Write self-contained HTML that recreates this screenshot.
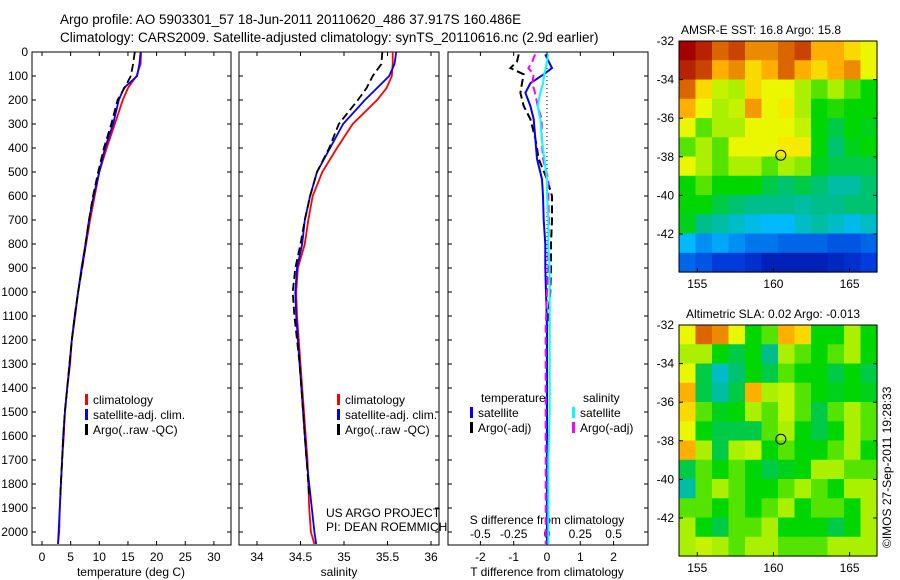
<!DOCTYPE html>
<html><head><meta charset="utf-8"><style>
body{margin:0;background:#fff}
svg{display:block;font-family:"Liberation Sans",sans-serif}
</style></head><body>
<svg id="fig" width="900" height="580">
<text x="60" y="24" font-size="13.5">Argo profile: AO 5903301_57 18-Jun-2011 20110620_486 37.917S 160.486E</text>
<text x="60" y="42" font-size="13.5">Climatology: CARS2009. Satellite-adjusted climatology: synTS_20110616.nc (2.9d earlier)</text>
<text x="681" y="34" font-size="12">AMSR-E SST: 16.8 Argo: 15.8</text>
<text x="686" y="318" font-size="12">Altimetric SLA: 0.02 Argo: -0.013</text>
<text transform="translate(891,548) rotate(-90)" font-size="12">©IMOS 27-Sep-2011 19:28:33</text>
<g id="g"></g>
</svg>
<script>
// ---- data ----
const depthTicks=[0,100,200,300,400,500,600,700,800,900,1000,1100,1200,1300,1400,1500,1600,1700,1800,1900,2000];
const tempTicks=[0,5,10,15,20,25,30];
const salTicks=[34,34.5,35,35.5,36];
const tdTicks=[-2,-1,0,1,2];
const sdTicks=[-0.5,-0.25,0,0.25,0.5];
const sdTickLabels=["-0.5","-0.25","0","0.25","0.5"];
const depths=[0,50,100,150,200,300,400,500,600,700,800,900,1000,1100,1200,1300,1400,1500,1600,1700,1800,1900,2000,2050];
const tempClim=[17.3,17.2,16.5,15.0,14.1,12.7,11.3,10.0,9.2,8.4,7.7,7.0,6.3,5.8,5.2,4.9,4.4,4.0,3.8,3.5,3.3,3.1,3.0,2.8];
const tempSat=[17.2,17.0,16.6,14.3,13.4,12.4,11.0,10.0,9.0,8.2,7.6,6.9,6.3,5.7,5.2,4.8,4.4,4.0,3.7,3.5,3.3,3.1,2.9,2.8];
const depthsArgo=[0,50,100,150,200,300,400,500,600,700,800,900,1000,1100,1200,1300,1400,1500,1600,1700,1850];
const tempArgo=[16.2,15.9,15.5,14.4,13.2,12.1,10.8,9.8,8.9,8.2,7.6,7.0,6.3,5.7,5.2,4.8,4.4,4.0,3.7,3.5,3.2];
const salClim=[35.56,35.56,35.55,35.49,35.38,35.10,34.92,34.75,34.64,34.59,34.55,34.47,34.45,34.46,34.48,34.50,34.52,34.54,34.56,34.58,34.59,34.60,34.62,34.66];
const salSat=[35.60,35.58,35.52,35.38,35.24,34.99,34.84,34.69,34.61,34.55,34.52,34.46,34.44,34.45,34.47,34.49,34.51,34.53,34.55,34.57,34.60,34.63,34.66,34.68];
const salArgo=[35.44,35.43,35.33,35.26,35.16,34.94,34.83,34.69,34.61,34.55,34.50,34.44,34.41,34.43,34.46,34.49,34.51,34.53,34.55,34.57,34.60];
const dDepths=[10,40,67,93,130,170,225,280,360,445,530,600,700,800,900,1000,1150,1300,1500,1700,1900,2050];
const dTArgo=[-0.85,-0.9,-1.1,-0.7,-0.75,-0.8,-0.7,-0.5,-0.35,-0.25,0,0.15,0.15,0.12,0.12,0.1,0.0,0.0,0.0,0.0,0.0,0.0];
const dTSat=[-0.05,0.05,0.15,-0.1,-0.5,-0.65,-0.5,-0.4,-0.35,-0.3,-0.15,-0.12,-0.1,-0.05,-0.05,-0.03,0,0,0,0,0,0];
const dSArgo=[-0.09,-0.11,-0.14,-0.10,-0.11,-0.09,-0.07,-0.04,-0.04,-0.03,0.01,0.01,0.015,0.01,0.01,0.0,-0.01,-0.01,-0.01,-0.01,-0.01,-0.01];
const dSSat=[0.01,0.0,-0.01,-0.02,-0.03,-0.05,-0.07,-0.05,-0.04,-0.02,0.0,0.0,0.01,0.01,0.02,0.02,0.02,0.02,0.02,0.01,0.01,0.01];
const latTicks=[-32,-34,-36,-38,-40,-42];
const lonTicks=[155,160,165];
const argoLon=160.486, argoLat=-37.917;
const sstGrid=[
[1,.95,.85,.9,.8,.8,.85,.9,.75,.75,.7,.65],
[.95,.9,.75,.8,.7,.75,.85,.75,.7,.75,.8,.65],
[.85,.7,.62,.6,.7,.65,.65,.6,.55,.6,.55,.5],
[.75,.65,.6,.62,.78,.65,.68,.6,.5,.52,.5,.5],
[.65,.55,.6,.6,.65,.65,.65,.62,.5,.45,.5,.48],
[.55,.6,.55,.65,.65,.65,.68,.68,.5,.42,.48,.5],
[.65,.6,.55,.6,.6,.55,.6,.58,.48,.45,.45,.45],
[.5,.55,.5,.5,.5,.45,.42,.45,.42,.38,.38,.42],
[.5,.5,.45,.42,.4,.4,.4,.38,.4,.4,.42,.42],
[.48,.4,.38,.35,.32,.3,.3,.35,.38,.35,.32,.35],
[.3,.25,.28,.25,.22,.22,.2,.2,.2,.18,.18,.2],
[.2,.18,.15,.15,.12,.08,.08,.08,.08,.1,.12,.15]];
const slaGrid=[
[.65,.85,.8,.65,.5,.55,.75,.7,.5,.5,.6,.5],
[.6,.6,.5,.45,.5,.4,.6,.55,.5,.55,.6,.5],
[.65,.45,.35,.42,.5,.45,.55,.5,.5,.45,.5,.45],
[.75,.45,.38,.45,.75,.6,.62,.55,.5,.48,.5,.48],
[.7,.55,.48,.5,.6,.55,.62,.55,.45,.55,.6,.55],
[.65,.5,.45,.45,.45,.55,.6,.5,.45,.5,.6,.55],
[.75,.6,.45,.6,.62,.5,.55,.5,.5,.55,.6,.5],
[.45,.55,.5,.55,.5,.45,.48,.5,.6,.6,.55,.55],
[.38,.55,.6,.55,.5,.5,.55,.6,.55,.5,.6,.6],
[.55,.55,.5,.55,.5,.55,.6,.5,.55,.55,.5,.6],
[.6,.5,.45,.55,.55,.6,.5,.5,.5,.45,.5,.6],
[.6,.62,.6,.55,.6,.6,.55,.55,.55,.6,.6,.6]];

// ---- helpers ----
const NS="http://www.w3.org/2000/svg";
const G=document.getElementById('g');
function mk(tag,attrs,parent){const e=document.createElementNS(NS,tag);for(const k in attrs)e.setAttribute(k,attrs[k]);(parent||G).appendChild(e);return e;}
const TOP=52,BOT=545;
const yD=d=>TOP+d*0.24;
const xT=t=>42+t*5.73;
const xS=s=>257+(s-34)*87;
const xTd=t=>547+t*33.3;
const xSd=s=>547+s*133.2;

function frame(x0,x1,name){
  const r=mk('rect',{x:x0,y:TOP,width:x1-x0,height:BOT-TOP,fill:'none',stroke:'#000','stroke-width':1});
  
  
  depthTicks.forEach(d=>{
    const y=yD(d);
    const t=mk('line',{x1:x0,x2:x0+4,y1:y,y2:y,stroke:'#000'});
    
    
    const t2=mk('line',{x1:x1-4,x2:x1,y1:y,y2:y,stroke:'#000'});
    
    
  });
}
function xticks(vals,labels,fx,name,ly){
  vals.forEach((v,i)=>{
    const x=fx(v);
    const a=mk('line',{x1:x,x2:x,y1:BOT,y2:BOT-4,stroke:'#000'});
    
    
    const b=mk('line',{x1:x,x2:x,y1:TOP,y2:TOP+4,stroke:'#000'});
    
    
    const t=mk('text',{x:x,y:ly,'font-size':12,'text-anchor':'middle'});
    t.textContent=labels[i];
    
    
  });
}
function line(xs,ds,fx,color,w,dash,name){
  const pts=xs.map((v,i)=>fx(v).toFixed(1)+','+yD(ds[i]).toFixed(1)).join(' ');
  const p=mk('polyline',{points:pts,fill:'none',stroke:color,'stroke-width':w});
  if(dash)p.setAttribute('stroke-dasharray',dash);
  
  
}
function legend(x,y,items,name){
  items.forEach((it,i)=>{
    const yy=y+i*15;
    const r=mk('rect',{x:x,y:yy-10,width:3,height:11,fill:it[1]});
    
    
    const t=mk('text',{x:x+8,y:yy,'font-size':12});
    t.textContent=it[0];
    
    
  });
}
function txt(x,y,s,name,anchor,size){
  const t=mk('text',{x:x,y:y,'font-size':size||12,'text-anchor':anchor||'start'});
  t.textContent=s;
  
  
}

// depth labels
depthTicks.forEach(d=>{
  const t=mk('text',{x:28,y:yD(d)+4,'font-size':12,'text-anchor':'end'});
  t.textContent=d;
  
  
});

// Panel 1 temperature
frame(32,231,'temperature-panel');
xticks(tempTicks,tempTicks.map(String),xT,'temperature-axis',561);
txt(131,576,'temperature (deg C)','temperature-axis-title','middle');
line(tempClim,depths,xT,'#f00',1.8,null,'temperature-climatology-line');
line(tempSat,depths,xT,'#00f',1.8,null,'temperature-satellite-line');
line(tempArgo,depthsArgo,xT,'#000',1.8,'8,4','temperature-argo-line');
legend(85,404,[['climatology','#f00'],['satellite-adj. clim.','#00f'],['Argo(..raw -QC)','#000']],'temperature-legend');

// Panel 2 salinity
frame(239,439,'salinity-panel');
xticks(salTicks,salTicks.map(String),xS,'salinity-axis',561);
txt(339,576,'salinity','salinity-axis-title','middle');
line(salClim,depths,xS,'#f00',1.8,null,'salinity-climatology-line');
line(salSat,depths,xS,'#00f',1.8,null,'salinity-satellite-line');
line(salArgo,depthsArgo,xS,'#000',1.8,'8,4','salinity-argo-line');
legend(337,404,[['climatology','#f00'],['satellite-adj. clim.','#00f'],['Argo(..raw -QC)','#000']],'salinity-legend');
txt(326,517,'US ARGO PROJECT','project-label');
txt(326,531,'PI: DEAN ROEMMICH','pi-label');

// Panel 3 differences
frame(448,648,'difference-panel');
xticks(tdTicks,tdTicks.map(String),xTd,'t-difference-axis',561);
txt(547,576,'T difference from climatology','t-difference-axis-title','middle');
sdTicks.forEach((v,i)=>{
  const t=mk('text',{x:xSd(v),y:538,'font-size':12,'text-anchor':'middle'});
  t.textContent=sdTickLabels[i];
  
  
});
txt(547,524,'S difference from climatology','s-difference-axis-title','middle');
const zl=mk('line',{x1:xTd(0),x2:xTd(0),y1:TOP,y2:BOT,stroke:'#000','stroke-dasharray':'1,3'});


line(dTArgo,dDepths,xTd,'#000',2,'8,4','t-difference-argo-line');
line(dTSat,dDepths,xTd,'#00f',2,null,'t-difference-satellite-line');
line(dSArgo,dDepths,xSd,'#f0f',2,'8,4','s-difference-argo-line');
line(dSSat,dDepths,xSd,'#0ff',2,null,'s-difference-satellite-line');
txt(481,402,'temperature','diff-legend-temperature-header');
txt(583,402,'salinity','diff-legend-salinity-header');
legend(470,417,[['satellite','#00f'],['Argo(-adj)','#000']],'diff-legend-temperature');
legend(572,417,[['satellite','#0ff'],['Argo(-adj)','#f0f']],'diff-legend-salinity');

// ---- maps ----
const cmapStops=[[0,[0,0,140]],[.15,[0,60,220]],[.3,[0,185,255]],[.4,[0,190,140]],[.5,[0,215,0]],[.6,[170,240,0]],[.66,[245,250,0]],[.75,[255,175,0]],[.86,[215,95,0]],[1,[165,0,0]]];
function cmap(v){
  v=Math.max(0,Math.min(1,v));
  for(let i=1;i<cmapStops.length;i++){
    if(v<=cmapStops[i][0]){
      const a=cmapStops[i-1],b=cmapStops[i],f=(v-a[0])/(b[0]-a[0]);
      return 'rgb('+a[1].map((c,k)=>Math.round(c+(b[1][k]-c)*f)).join(',')+')';
    }
  }
  return 'rgb(165,0,0)';
}
function map(grid,y0,lat0px,name){
  const X0=679,X1=877,lonL=153.8,lonR=166.8;
  const ppdLat=19.3;
  const fx=l=>X0+(l-lonL)/(lonR-lonL)*(X1-X0);
  const fy=la=>lat0px+(-32-la)*ppdLat;
  const Y1=fy(-43.97);
  const rows=grid.length,cols=grid[0].length;
  const cw=(X1-X0)/cols,ch=(Y1-y0)/rows;
  grid.forEach((row,r)=>row.forEach((v,c)=>{
    const e=mk('rect',{x:X0+c*cw,y:y0+r*ch,width:cw+0.6,height:ch+0.6,fill:cmap(v)});
    
    
  }));
  const f=mk('rect',{x:X0,y:y0,width:X1-X0,height:Y1-y0,fill:'none',stroke:'#000'});
  
  
  latTicks.forEach(la=>{
    const y=fy(la);
    const t=mk('line',{x1:X0,x2:X0+4,y1:y,y2:y,stroke:'#000'});
    
    
    const t2=mk('line',{x1:X1-4,x2:X1,y1:y,y2:y,stroke:'#000'});
    
    
    const l=mk('text',{x:X0-5,y:y+4,'font-size':12,'text-anchor':'end'});
    l.textContent=la;
    
    
  });
  lonTicks.forEach(lo=>{
    const x=fx(lo);
    const t=mk('line',{x1:x,x2:x,y1:Y1,y2:Y1-4,stroke:'#000'});
    
    
    const l=mk('text',{x:x,y:Y1+16,'font-size':12,'text-anchor':'middle'});
    l.textContent=lo;
    
    
  });
  const c=mk('circle',{cx:fx(argoLon),cy:fy(argoLat),r:5,fill:'none',stroke:'#000'});
  
  
}
map(sstGrid,41,41,'sst-map');
map(slaGrid,325,325,'sla-map');
</script>
</body></html>
